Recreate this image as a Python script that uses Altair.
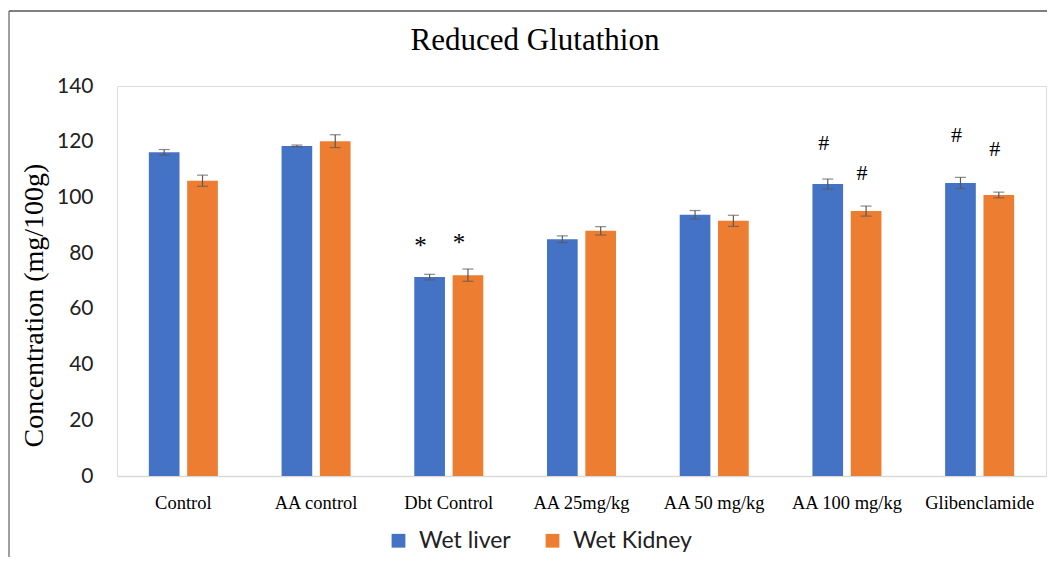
import altair as alt
import pandas as pd

title_text = "Reduced Glutathion"
y_title = "Concentration (mg/100g)"
groups = ["Control", "AA control", "Dbt Control", "AA 25mg/kg", "AA 50 mg/kg", "AA 100 mg/kg", "Glibenclamide"]
series = ["Wet liver", "Wet Kidney"]
liver = [116.2, 118.5, 71.4, 85.0, 93.8, 104.8, 105.2]
liver_err = [1.0, 0.3, 1.0, 1.2, 1.5, 1.8, 2.0]
kidney = [106.0, 120.2, 72.1, 88.0, 91.6, 95.1, 100.9]
kidney_err = [2.0, 2.3, 2.2, 1.5, 2.0, 1.8, 1.0]
liver_sig = ["", "", "*", "", "", "#", "#"]
kidney_sig = ["", "", "*", "", "", "#", "#"]
liver_sig_y = [None, None, 84.0, None, None, 119.5, 122.4]
kidney_sig_y = [None, None, 85.0, None, None, 108.8, 117.4]
y_ticks = [0, 20, 40, 60, 80, 100, 120, 140]
colors = ["#4472C4", "#ED7D31"]

rows = []
for i, g in enumerate(groups):
    for s, v, e, sig, sy in (
        (series[0], liver[i], liver_err[i], liver_sig[i], liver_sig_y[i]),
        (series[1], kidney[i], kidney_err[i], kidney_sig[i], kidney_sig_y[i]),
    ):
        rows.append({"group": g, "series": s, "value": v, "lo": v - e, "hi": v + e,
                     "sig": sig, "sig_y": sy})
df = pd.DataFrame(rows)

W, H = 929, 390

x = alt.X("group:N", sort=groups, title=None,
          scale=alt.Scale(paddingInner=0.48, paddingOuter=0.24),
          axis=alt.Axis(labelAngle=0, labelFont="Liberation Serif", labelFontSize=18.5,
                        labelColor="#000000", ticks=False, domainColor="#d9d9d9",
                        domainWidth=1.5, labelPadding=17))
xo = alt.XOffset("series:N", sort=series, scale=alt.Scale(paddingInner=0.2))

base = alt.Chart(df)

bars = base.mark_bar().encode(
    x=x, xOffset=xo,
    y=alt.Y("value:Q", scale=alt.Scale(domain=[0, 140]),
            title=y_title,
            axis=alt.Axis(values=y_ticks, domain=False, ticks=False, grid=False,
                          labelFont="Lato", labelFontSize=21, labelColor="#222222",
                          labelPadding=24, titleFont="Liberation Serif",
                          titleFontSize=28, titleFontWeight="normal",
                          titleColor="#000000", titlePadding=8, titleY=219)),
    color=alt.Color("series:N", sort=series,
                    scale=alt.Scale(domain=series, range=colors),
                    legend=alt.Legend(title=None, orient="none", direction="horizontal",
                                      legendX=270, legendY=443, symbolType="square",
                                      symbolSize=190, symbolStrokeWidth=0,
                                      labelFont="Lato", labelFontSize=23,
                                      labelColor="#222222", labelOffset=9,
                                      columnPadding=30)),
)

err = base.mark_rule(color="#595959", strokeWidth=1.2).encode(
    x=x, xOffset=xo, y="lo:Q", y2="hi:Q")
cap_lo = base.mark_tick(color="#595959", size=11, thickness=1.2).encode(
    x=x, xOffset=xo, y="lo:Q")
cap_hi = base.mark_tick(color="#595959", size=11, thickness=1.2).encode(
    x=x, xOffset=xo, y="hi:Q")

stars = base.transform_filter("datum.sig == '*'").mark_text(
    font="Liberation Serif", fontSize=25, color="#000000", dx=-9, baseline="middle", dy=4
).encode(x=x, xOffset=xo, y="sig_y:Q", text="sig:N")
hashes = base.transform_filter("datum.sig == '#'").mark_text(
    font="Liberation Serif", fontSize=22, color="#000000", dx=-4, baseline="middle"
).encode(x=x, xOffset=xo, y="sig_y:Q", text="sig:N")

one = alt.Data(values=[{"k": 1}])
title_mark = alt.Chart(one).mark_text(
    font="Liberation Serif", fontSize=31, color="#000000", align="center",
    baseline="alphabetic"
).encode(x=alt.value(418), y=alt.value(-36), text=alt.value(title_text))
frame_left = alt.Chart(one).mark_rule(color="#7f7f7f", strokeWidth=1.5).encode(
    x=alt.value(-108), y=alt.value(-75), y2=alt.value(H + 81))
frame_top = alt.Chart(one).mark_rule(color="#555555", strokeWidth=1.5).encode(
    x=alt.value(-108), x2=alt.value(W + 1), y=alt.value(-75))

chart = alt.layer(bars, err, cap_lo, cap_hi, stars, hashes, title_mark,
                  frame_left, frame_top).properties(
    width=W, height=H,
    autosize=alt.AutoSizeParams(type="none"),
    padding={"left": 109, "top": 78, "right": 1, "bottom": 81},
).configure_view(stroke=None).configure(background="white")

chart.save("out.html", embed_options={"renderer": "svg", "actions": False})
